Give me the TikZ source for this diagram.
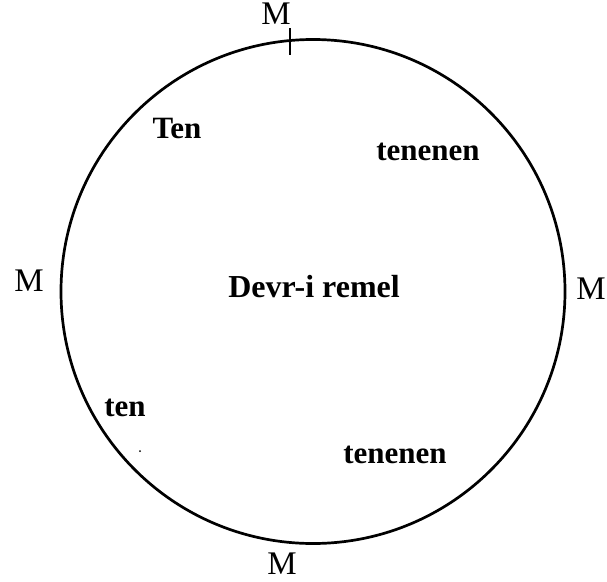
\documentclass[tikz,border=0pt]{standalone}
\usepackage{fontspec}
\setmainfont{Liberation Serif}
\begin{document}
\begin{tikzpicture}[x=1pt,y=-1pt,
  lbl/.style={inner sep=0pt,font=\fontsize{31}{36}\selectfont\bfseries},
  mlabel/.style={inner sep=0pt,font=\fontsize{33}{38}\selectfont},
  ring/.style={circle,draw,line width=2.7pt,minimum size=504pt,inner sep=0pt}]
\useasboundingbox (0,0) rectangle (607,581);
\node[ring] (c) at (313,291.5) {};
\coordinate (t1) at (290,28);
\coordinate (t2) at (290,55);
\draw[line width=1.5pt] (t1) -- (t2);
\node[mlabel] (mt) at (276,14) {M};
\node[mlabel] (ml) at (29,281) {M};
\node[mlabel] (mr) at (591,289) {M};
\node[mlabel] (mb) at (282,564) {M};
\node[lbl] (ten1) at (177,128) {Ten};
\node[lbl] (tn1) at (428,152) {tenenen};
\node[lbl,font=\fontsize{32}{38}\selectfont\bfseries] (dr) at (314,287) {Devr-i remel};
\node[lbl] (ten2) at (125,408) {ten};
\node[lbl] (tn2) at (395,455) {tenenen};
\fill (140,451) circle (1pt);
\end{tikzpicture}
\end{document}
